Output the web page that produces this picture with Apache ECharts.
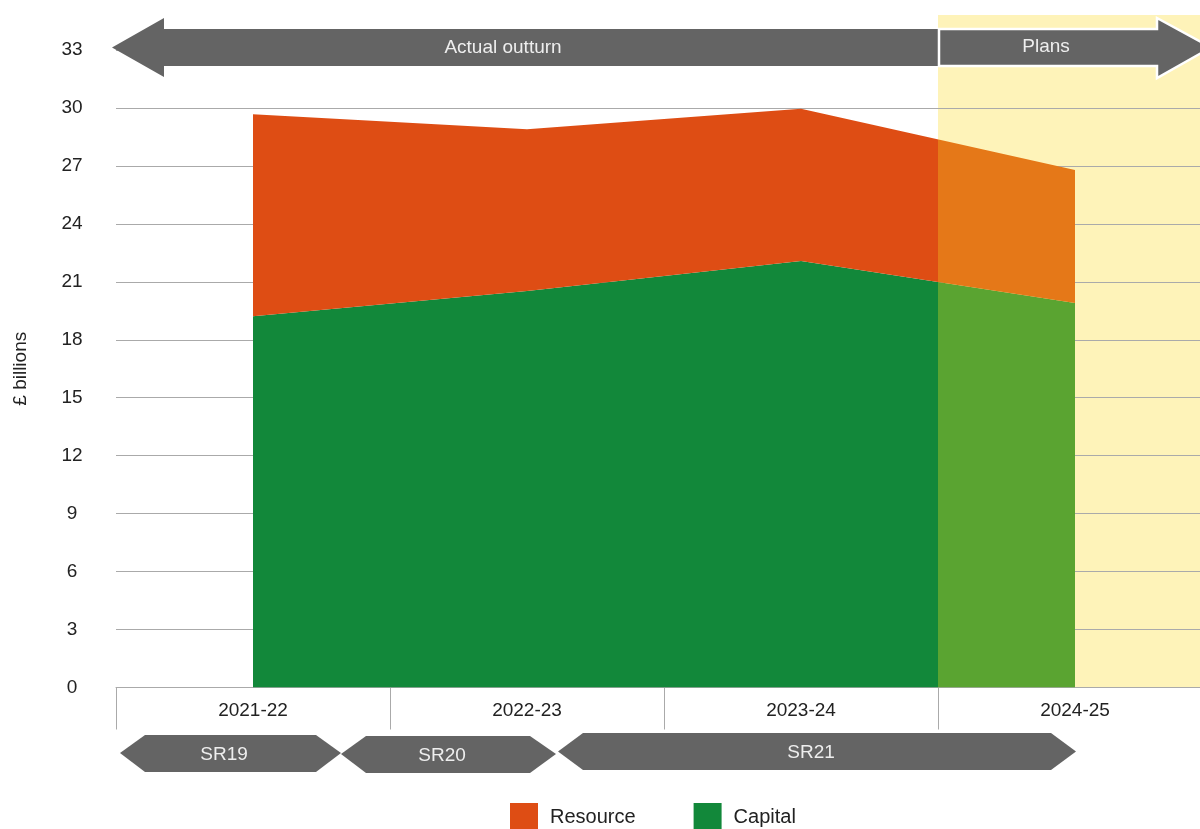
<!DOCTYPE html>
<html><head><meta charset="utf-8">
<script src="https://cdn.jsdelivr.net/npm/echarts@6/dist/echarts.min.js"></script>
<style>html,body{margin:0;padding:0;background:#fff;overflow:hidden;width:1200px;height:829px}#c{width:1212px;height:829px}</style>
</head><body><div id="c"></div>
<script>
// ---- data ----
const categories = ['2021-22', '2022-23', '2023-24', '2024-25'];
const capital    = [19.22, 20.52, 22.08, 19.91];
const resource   = [10.46, 8.38, 7.88, 6.88];
const planStartIndex = 3;           // 2024-25 onward are plans
const yMin = 0, yMax = 33, yStep = 3;

// ---- styles ----
const FONT = 'Liberation Sans, Arial, sans-serif';
const ORANGE = '#DE4D14', ORANGE_PLAN = '#E57818';
const GREEN = '#12883A', GREEN_PLAN = '#5AA431';
const YELLOW = '#FEF3B9', ARROW = '#646464', ARROW_TXT = '#eeeeee';

const chart = echarts.init(document.getElementById('c'), null, {renderer: 'canvas'});

function arrowText(text, x, y) {
  return {type: 'text', z: 101, x: x, y: y,
    style: {text: text, fill: ARROW_TXT, font: '19px ' + FONT, textAlign: 'center', textVerticalAlign: 'middle'}};
}
function poly(points, extra) {
  return Object.assign({type: 'polygon', z: 100, shape: {points: points}, style: {fill: ARROW}}, extra || {});
}

chart.setOption({
  animation: false,
  backgroundColor: '#fff',
  textStyle: {fontFamily: FONT},
  grid: {left: 116, top: 50, right: 0, bottom: 141.5},
  xAxis: {
    type: 'category', data: categories, boundaryGap: true,
    axisLine: {lineStyle: {color: '#aaaaaa', width: 1}},
    axisTick: {show: true, length: 42, alignWithLabel: false, lineStyle: {color: '#aaaaaa'}},
    axisLabel: {color: '#222', fontSize: 19, margin: 14, fontFamily: FONT},
    splitLine: {show: false}
  },
  yAxis: {
    type: 'value', min: yMin, max: yMax, interval: yStep,
    name: '£ billions', nameLocation: 'middle', nameGap: 86,
    nameTextStyle: {color: '#222', fontSize: 19, fontFamily: FONT},
    axisLine: {show: false}, axisTick: {show: false},
    axisLabel: {color: '#222', fontSize: 19, margin: 44, align: 'center', fontFamily: FONT},
    splitLine: {lineStyle: {color: '#aaaaaa', width: 1}}
  },
  legend: {
    left: 510, top: 803, padding: 0, itemWidth: 28, itemHeight: 28, itemGap: 58, icon: 'rect',
    textStyle: {color: '#222', fontSize: 20, fontFamily: FONT, padding: [0, 0, 0, 7]},
    data: [{name: 'Resource', itemStyle: {color: ORANGE}}, {name: 'Capital', itemStyle: {color: GREEN}}]
  },
  series: [
    {name: 'Capital', type: 'line', stack: 'total', data: capital, symbol: 'none',
     lineStyle: {width: 0}, itemStyle: {color: GREEN}, areaStyle: {opacity: 1, color: GREEN}, z: 2},
    {name: 'Resource', type: 'line', stack: 'total', data: resource, symbol: 'none',
     lineStyle: {width: 0}, itemStyle: {color: ORANGE}, areaStyle: {opacity: 1, color: ORANGE}, z: 2}
  ]
});

// Plans boundary: midway between the last actual category and the first plan category
const xa = chart.convertToPixel({xAxisIndex: 0}, categories[planStartIndex - 1]);
const xb = chart.convertToPixel({xAxisIndex: 0}, categories[planStartIndex]);
const boundary = (xa + xb) / 2;
const W = chart.getWidth();
function split(c1, c2) {
  const o = boundary / W;
  return new echarts.graphic.LinearGradient(0, 0, W, 0,
    [{offset: 0, color: c1}, {offset: o, color: c1}, {offset: o, color: c2}, {offset: 1, color: c2}], true);
}
chart.setOption({
  series: [
    {name: 'Capital', areaStyle: {color: split(GREEN, GREEN_PLAN)}},
    {name: 'Resource', areaStyle: {color: split(ORANGE, ORANGE_PLAN)}}
  ],
  graphic: [
    {type: 'rect', z: -1, shape: {x: boundary, y: 15, width: W - boundary, height: 672.5}, style: {fill: YELLOW}},
    poly([[112, 47.5], [164, 18], [164, 29], [boundary, 29], [boundary, 66], [164, 66], [164, 77]]),
    poly([[boundary + 1, 29], [1157, 29], [1157, 18], [1211, 47.5], [1157, 78], [1157, 66], [boundary + 1, 66]],
         {style: {fill: ARROW, stroke: '#ffffff', lineWidth: 2.5}}),
    arrowText('Actual outturn', 503, 48),
    arrowText('Plans', 1046, 47),
    poly([[120, 753], [145, 735], [316, 735], [341, 753], [316, 772], [145, 772]]),
    poly([[341, 754], [366, 736], [530, 736], [556, 754], [530, 773], [366, 773]]),
    poly([[558, 751.5], [583, 733], [1051, 733], [1076, 751.5], [1051, 770], [583, 770]]),
    arrowText('SR19', 224, 755),
    arrowText('SR20', 442, 756),
    arrowText('SR21', 811, 753)
  ]
});
</script>
</body></html>
